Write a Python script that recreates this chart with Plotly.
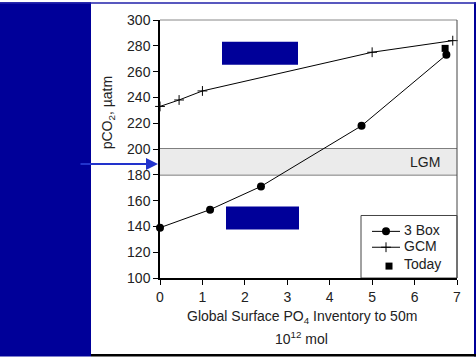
import plotly.graph_objects as go

# Data
box3_x = [0, 1.18, 2.38, 4.75, 6.75]
box3_y = [139, 153, 171, 218, 273]
gcm_x = [0, 0.45, 1.0, 5.0, 6.9]
gcm_y = [233, 238, 245, 275, 284]
today_x = [6.72]
today_y = [278]
lgm_range = [180, 200]
x_ticks = [0, 1, 2, 3, 4, 5, 6, 7]
y_ticks = [100, 120, 140, 160, 180, 200, 220, 240, 260, 280, 300]
legend_names = ["3 Box", "GCM", "Today"]

W, H = 476, 357
L, R, T, B = 160, 19, 18, 79
pw, ph = W - L - R, H - T - B

def px(x):
    return (x - L) / pw

def py(y):
    return (H - B - y) / ph

NAVY = "#000099"
FONT = "Liberation Sans, Arial, sans-serif"
TXT = "#222222"

CIRCLE = dict(symbol="circle", size=8, color="black")
CROSS = dict(symbol="cross-thin", size=7, color="black", line=dict(color="black", width=1))
SQUARE = dict(symbol="square", size=7, color="black")

fig = go.Figure()

fig.add_trace(go.Scatter(x=box3_x, y=box3_y, mode="lines+markers", name=legend_names[0],
                         line=dict(color="black", width=1), marker=CIRCLE,
                         cliponaxis=False, showlegend=False))
fig.add_trace(go.Scatter(x=gcm_x, y=gcm_y, mode="lines+markers", name=legend_names[1],
                         line=dict(color="black", width=1), marker=CROSS,
                         cliponaxis=False, showlegend=False))
fig.add_trace(go.Scatter(x=today_x, y=today_y, mode="markers", name=legend_names[2],
                         marker=SQUARE, cliponaxis=False, showlegend=False))

# manual legend (pixel-space overlay axes)
leg_rows = [231, 247, 266]
leg_mx = [386, 386, 389]
for i, mk in enumerate([CIRCLE, CROSS, SQUARE]):
    fig.add_trace(go.Scatter(x=[leg_mx[i]], y=[leg_rows[i]], mode="markers", marker=mk,
                             xaxis="x2", yaxis="y2", cliponaxis=False, showlegend=False,
                             hoverinfo="skip"))

shapes = []
# LGM band
shapes.append(dict(type="rect", xref="x", yref="y", x0=0, x1=7, y0=lgm_range[0], y1=lgm_range[1],
                   fillcolor="#ebebeb", line=dict(width=0), layer="below"))
for v in lgm_range:
    shapes.append(dict(type="line", xref="paper", yref="y", x0=0, x1=1, y0=v, y1=v,
                       line=dict(color="#555555", width=1.5), layer="below"))
# frame top/right
shapes.append(dict(type="line", xref="paper", yref="paper", x0=0, x1=1, y0=1, y1=1,
                   line=dict(color="#888888", width=1)))
shapes.append(dict(type="line", xref="paper", yref="paper", x0=1, x1=1, y0=0, y1=1,
                   line=dict(color="#444444", width=1)))
# legend box
shapes.append(dict(type="rect", xref="paper", yref="paper", x0=px(361), x1=px(457), y0=py(278), y1=py(215),
                   fillcolor="white", line=dict(color="#444444", width=1), layer="below"))
for r in leg_rows[:2]:
    shapes.append(dict(type="line", xref="paper", yref="paper", x0=px(372), x1=px(400), y0=py(r), y1=py(r),
                       line=dict(color="black", width=1)))
# blue rectangles
shapes.append(dict(type="rect", xref="paper", yref="paper", x0=px(222), x1=px(298), y0=py(63), y1=py(40),
                   fillcolor=NAVY, line=dict(width=0)))
shapes.append(dict(type="rect", xref="paper", yref="paper", x0=px(226), x1=px(299), y0=py(229), y1=py(206),
                   fillcolor=NAVY, line=dict(width=0)))
# left band and borders
shapes.append(dict(type="rect", xref="paper", yref="paper", x0=px(0), x1=px(91), y0=py(357), y1=py(0),
                   fillcolor=NAVY, line=dict(width=0)))
shapes.append(dict(type="rect", xref="paper", yref="paper", x0=px(474), x1=px(476), y0=py(357), y1=py(0),
                   fillcolor=NAVY, line=dict(width=0)))
shapes.append(dict(type="rect", xref="paper", yref="paper", x0=px(0), x1=px(476), y0=py(1.5), y1=py(0),
                   fillcolor="#2020aa", line=dict(width=0)))
shapes.append(dict(type="rect", xref="paper", yref="paper", x0=px(91), x1=px(476), y0=py(357), y1=py(354.5),
                   fillcolor="black", line=dict(width=0)))

annotations = [
    dict(text="LGM", xref="x", yref="y", x=6.25, y=190, showarrow=False,
         xanchor="center", yanchor="middle",
         font=dict(family=FONT, size=14, color=TXT)),
    dict(text="pCO<sub>2</sub>, µatm", xref="paper", yref="paper", x=px(108), y=py(112),
         xanchor="center", yanchor="middle",
         textangle=-90, showarrow=False, font=dict(family=FONT, size=14, color=TXT)),
    dict(text="Global Surface PO<sub>4</sub> Inventory to 50m", xref="paper", yref="paper",
         x=px(302), y=py(317), xanchor="center", yanchor="middle",
         showarrow=False, font=dict(family=FONT, size=14, color=TXT)),
    dict(text="10<sup>12</sup> mol", xref="paper", yref="paper",
         x=px(301), y=py(338), xanchor="center", yanchor="middle",
         showarrow=False, font=dict(family=FONT, size=14, color=TXT)),
    dict(text="", xref="paper", yref="paper", x=px(158), y=py(163), ax=-79, ay=0,
         showarrow=True, arrowhead=2, arrowsize=1.2, arrowwidth=2, arrowcolor="#2233cc"),
]
leg_text_y = [230, 246, 264]
for name, ty in zip(legend_names, leg_text_y):
    annotations.append(dict(text=name, xref="paper", yref="paper", x=px(402), y=py(ty),
                            xanchor="left", yanchor="middle", showarrow=False,
                            font=dict(family=FONT, size=14, color=TXT)))

fig.update_layout(
    width=W, height=H, autosize=False,
    margin=dict(l=L, r=R, t=T, b=B, pad=0),
    paper_bgcolor="white", plot_bgcolor="white",
    showlegend=False,
    shapes=shapes, annotations=annotations,
    font=dict(family=FONT, size=14, color=TXT),
    xaxis2=dict(overlaying="x", range=[L, W - R], visible=False, fixedrange=True),
    yaxis2=dict(overlaying="y", range=[H - B, T], visible=False, fixedrange=True),
    xaxis=dict(range=[0, 7], tickvals=x_ticks, showgrid=False, zeroline=False,
               showline=True, linecolor="black", linewidth=1.5,
               ticks="outside", ticklen=5, tickcolor="black",
               ticklabelstandoff=0,
               tickfont=dict(family=FONT, size=14, color=TXT)),
    yaxis=dict(range=[100, 300], tickvals=y_ticks, showgrid=False, zeroline=False,
               showline=True, linecolor="black", linewidth=1.5,
               ticks="outside", ticklen=5, tickcolor="black",
               ticklabelstandoff=0,
               tickfont=dict(family=FONT, size=14, color=TXT)),
)

fig.write_html("out.html", config={"displayModeBar": False},
               post_script="document.body.style.margin='0';document.body.style.overflow='hidden';")
